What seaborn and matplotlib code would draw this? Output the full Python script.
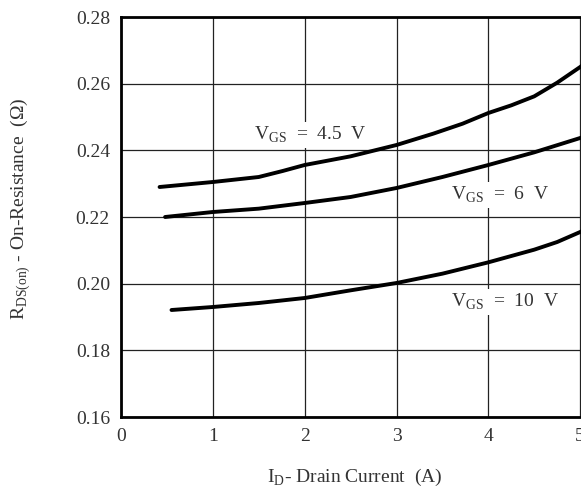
import matplotlib
matplotlib.use("Agg")
import matplotlib.pyplot as plt
import seaborn as sns
import pandas as pd

# curve data
id_45 = [0.42, 1.0, 1.2, 1.5, 1.76, 2.0, 2.5, 3.0, 3.4, 3.72, 4.0, 4.25, 4.5, 4.75, 5.0, 5.05]
r_45 = [0.2290, 0.2305, 0.2311, 0.2320, 0.2338, 0.2356, 0.2382, 0.2416, 0.2450, 0.2480, 0.2512, 0.2535, 0.2562, 0.2603, 0.2650, 0.2660]

id_6 = [0.48, 1.0, 1.5, 2.0, 2.5, 3.0, 3.5, 4.0, 4.5, 5.0, 5.05]
r_6 = [0.2200, 0.2215, 0.2225, 0.2242, 0.2260, 0.2287, 0.2320, 0.2356, 0.2394, 0.2437, 0.2442]

id_10 = [0.55, 1.0, 1.5, 2.0, 2.5, 3.0, 3.5, 4.0, 4.5, 4.75, 5.0, 5.05]
r_10 = [0.1921, 0.1930, 0.1942, 0.1957, 0.1980, 0.2002, 0.2030, 0.2064, 0.2102, 0.2125, 0.2155, 0.2161]

series = ["4.5 V", "6 V", "10 V"]
label_text = [r"V$_\mathrm{GS}$  =  4.5  V", r"V$_\mathrm{GS}$  =  6  V", r"V$_\mathrm{GS}$  =  10  V"]
label_x = [2.06, 4.13, 4.18]
label_y = [0.2446, 0.2266, 0.1945]

x_ticks = [0, 1, 2, 3, 4, 5, 6]
y_ticks = [0.16, 0.18, 0.20, 0.22, 0.24, 0.26, 0.28]

df = pd.concat([
    pd.DataFrame({"id": id_45, "r": r_45, "vgs": series[0]}),
    pd.DataFrame({"id": id_6, "r": r_6, "vgs": series[1]}),
    pd.DataFrame({"id": id_10, "r": r_10, "vgs": series[2]}),
])

sns.set_style("white")
plt.rcParams["font.family"] = ["Liberation Serif", "Noto Sans CJK SC"]
plt.rcParams["mathtext.fontset"] = "custom"
plt.rcParams["mathtext.rm"] = "Liberation Serif"

fig = plt.figure(figsize=(5.81, 4.93), dpi=100)
# right side of the frame runs past the picture edge, as in the original
ax = fig.add_axes([121 / 581, 76 / 493, 551 / 581, 400 / 493])

sns.lineplot(data=df, x="id", y="r", units="vgs", estimator=None, sort=False,
             color="black", linewidth=2.8, ax=ax, legend=False, zorder=3)

ax.set_xlim(0, 6)
ax.set_ylim(0.16, 0.28)
ax.set_xticks(x_ticks)
ax.set_yticks(y_ticks)
ax.set_xticklabels([str(t) for t in x_ticks])
ax.set_yticklabels([f"{t:.2f}" for t in y_ticks])
ax.tick_params(length=0, labelsize=14, colors="#333333")
ax.tick_params(axis="x", pad=8)
ax.tick_params(axis="y", pad=8)
ax.grid(True, color="#222222", linewidth=0.9)
ax.set_axisbelow(True)
for s in ax.spines.values():
    s.set_color("black")
    s.set_linewidth(2.0)

for t, x, y in zip(label_text, label_x, label_y):
    ax.text(x, y, t, ha="center", va="center", fontsize=14, color="#333333",
            bbox=dict(facecolor="white", edgecolor="none", pad=2), zorder=4)

ax.set_xlabel(r"I$_\mathrm{D}$- Drain Current  (A)", fontsize=14, color="#333333")
ax.set_ylabel(r"R$_\mathrm{DS(on)}$ - On-Resistance  ($\Omega$)", fontsize=14, color="#333333")
ax.xaxis.set_label_coords(234 / 551, -0.125)
ax.yaxis.set_label_coords(-0.16, 0.52)

fig.savefig("out.png", dpi=100)
